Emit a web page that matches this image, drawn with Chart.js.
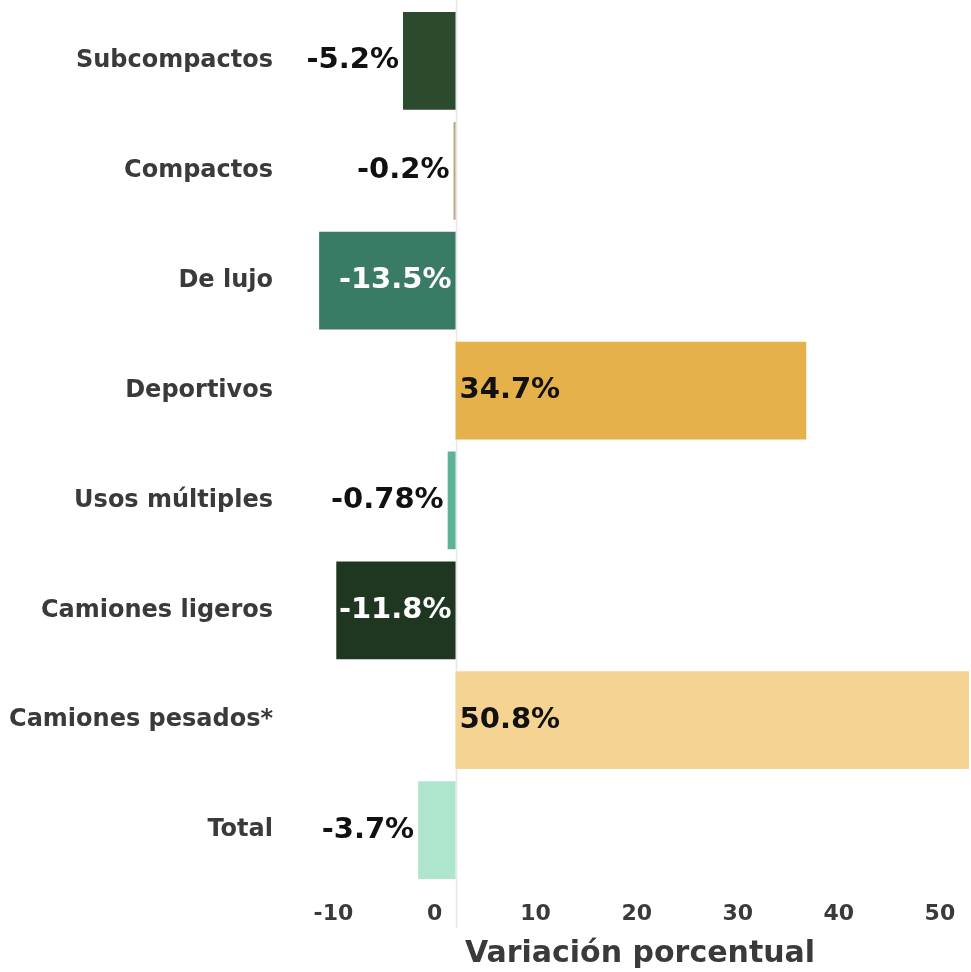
<!DOCTYPE html>
<html lang="es">
<head>
<meta charset="UTF-8">
<title>Variación porcentual</title>
<script src="https://cdn.jsdelivr.net/npm/chart.js@4.4.1/dist/chart.umd.min.js"></script>
<style>
    html, body { margin: 0; padding: 0; background: #ffffff; overflow: hidden; }
    #wrap { width: 971px; height: 972px; }
</style>
</head>
<body>
<div id="wrap"><canvas id="variacionChart"></canvas></div>
<script>
// ======== DATOS ========
const categorias = ['Subcompactos', 'Compactos', 'De lujo', 'Deportivos', 'Usos múltiples', 'Camiones ligeros', 'Camiones pesados*', 'Total'];
const variacion = [-5.2, -0.2, -13.5, 34.7, -0.78, -11.8, 50.8, -3.7];
const etiquetas = ['-5.2%', '-0.2%', '-13.5%', '34.7%', '-0.78%', '-11.8%', '50.8%', '-3.7%'];
const coloresBarra = ['#2c4a2e', '#b5a882', '#3a7b66', '#e6b04a', '#5db394', '#1f3620', '#f5d493', '#ade5cd'];
const ticksX = [-10, 0, 10, 20, 30, 40, 50];

const FUENTE = '"DejaVu Sans", sans-serif';

// Línea vertical del cero (se extiende hasta las etiquetas del eje)
const lineaCero = {
    id: 'lineaCero',
    beforeDatasetsDraw(chart) {
        const ctx = chart.ctx;
        const x = Math.round(chart.scales.x.getPixelForValue(0)) + 0.5;
        ctx.save();
        ctx.strokeStyle = '#e6e6e6';
        ctx.lineWidth = 1.5;
        ctx.beginPath();
        ctx.moveTo(x, 0);
        ctx.lineTo(x, 928);
        ctx.stroke();
        ctx.restore();
    }
};

// Etiquetas de valor: dentro de la barra si caben, si no, afuera
const etiquetasValor = {
    id: 'etiquetasValor',
    afterDatasetsDraw(chart) {
        const ctx = chart.ctx;
        const xs = chart.scales.x;
        const cero = xs.getPixelForValue(0);
        const meta = chart.getDatasetMeta(0);
        ctx.save();
        ctx.font = 'bold 29px ' + FUENTE;
        ctx.textBaseline = 'middle';
        meta.data.forEach((bar, i) => {
            const v = variacion[i];
            const txt = etiquetas[i];
            const w = ctx.measureText(txt).width;
            const largo = Math.abs(bar.x - cero);
            const cabe = largo >= w;
            if (v < 0) {
                ctx.textAlign = 'right';
                if (cabe) {
                    ctx.fillStyle = '#ffffff';
                    ctx.fillText(txt, cero - 4, bar.y);
                } else {
                    ctx.fillStyle = '#111111';
                    ctx.fillText(txt, bar.x - 4, bar.y);
                }
            } else {
                ctx.textAlign = 'left';
                ctx.fillStyle = '#111111';
                ctx.fillText(txt, cabe ? cero + 4 : bar.x + 4, bar.y);
            }
        });
        ctx.restore();
    }
};

const ctx = document.getElementById('variacionChart').getContext('2d');
const variacionChart = new Chart(ctx, {
    type: 'bar',
    data: {
        labels: categorias,
        datasets: [{
            data: variacion,
            backgroundColor: coloresBarra,
            borderWidth: 0,
            barPercentage: 0.89,
            categoryPercentage: 1.0
        }]
    },
    options: {
        indexAxis: 'y',
        responsive: true,
        maintainAspectRatio: false,
        animation: false,
        layout: { padding: { top: 6, right: 0, left: 0, bottom: 0 } },
        plugins: {
            legend: { display: false },
            tooltip: { enabled: false }
        },
        scales: {
            x: {
                min: -14.5,
                max: 51,
                afterBuildTicks: function(scale) {
                    scale.ticks = ticksX.map(v => ({ value: v }));
                },
                afterFit: function(scale) {
                    scale.height = 87;
                    scale.paddingLeft = 0;
                    scale.paddingRight = 0;
                },
                grid: { display: false, drawTicks: false },
                border: { display: false },
                ticks: {
                    font: { family: FUENTE, size: 22, weight: 'bold' },
                    color: '#3a3a3a',
                    padding: 16,
                    labelOffset: -21,
                    maxRotation: 0,
                    autoSkip: false
                },
                title: {
                    display: true,
                    text: 'Variación porcentual',
                    font: { family: FUENTE, size: 30, weight: 'bold' },
                    color: '#3a3a3a',
                    padding: { top: 0, bottom: 0 }
                }
            },
            y: {
                afterFit: function(scale) {
                    scale.width = 309;
                    scale.paddingTop = 0;
                    scale.paddingBottom = 0;
                },
                grid: { display: false, drawTicks: false },
                border: { display: false },
                ticks: {
                    font: { family: FUENTE, size: 24, weight: 'bold' },
                    color: '#3a3a3a',
                    padding: 36
                }
            }
        }
    },
    plugins: [lineaCero, etiquetasValor]
});
</script>
</body>
</html>
